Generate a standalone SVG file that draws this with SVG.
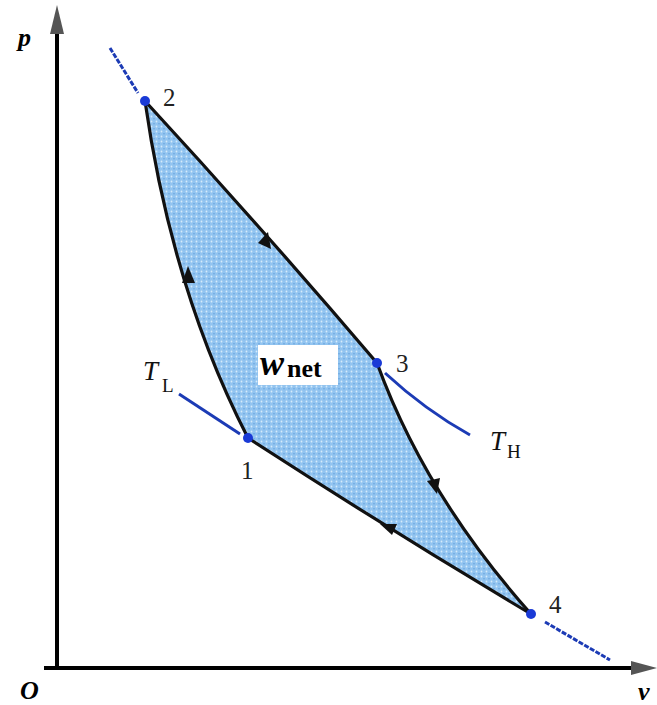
<svg xmlns="http://www.w3.org/2000/svg" width="657" height="705" viewBox="0 0 657 705">
<defs>
<pattern id="dots" width="5" height="5" patternUnits="userSpaceOnUse">
<rect width="5" height="5" fill="#92c4f0"/>
<circle cx="1.5" cy="1.5" r="0.9" fill="#d6ebfb"/>
<circle cx="4" cy="3.8" r="0.7" fill="#5f9fdc"/>
</pattern>
<style>
.axis{stroke:#000;stroke-width:4;fill:none}
.ahead{fill:#555}
.edge{stroke:#111;stroke-width:3.2;fill:none;stroke-linejoin:round}
.iso{stroke:#1c3bb5;stroke-width:3;fill:none}
.dash{stroke-dasharray:5 1.5}
.pt{fill:#1a3ad6}
.num{font-family:"Liberation Serif",serif;font-size:25px;fill:#222}
.ax{font-family:"Liberation Serif",serif;font-size:26px;font-weight:bold;font-style:italic;fill:#000}
.T{font-family:"Liberation Serif",serif;font-size:27px;font-style:italic;fill:#111}
.sub{font-family:"Liberation Serif",serif;font-size:19px;fill:#111}
.arr{fill:#111}
</style>
</defs>
<g id="axes">
<line class="axis" x1="57" y1="670" x2="57" y2="28"/>
<polygon class="ahead" points="57,5 50,34 64,34"/>
<line class="axis" x1="44" y1="668" x2="636" y2="668"/>
<polygon class="ahead" points="657,668 631,661 631,675"/>
<text class="ax" x="18" y="46">p</text>
<text class="ax" x="20" y="699" font-size="27">O</text>
<text class="ax" x="638" y="700">v</text>
</g>
<g id="cycle">
<path d="M145,101 Q262,228 377,363 Q425,495 531,614 Q390,530 248,438 Q172,290 145,101 Z" fill="url(#dots)" stroke="none"/>
</g>
<g id="connectors">
<path id="e23" class="edge" d="M145,101 Q262,228 377,363"/>
<path id="e34" class="edge" d="M377,363 Q425,495 531,614"/>
<path id="e41" class="edge" d="M531,614 Q390,530 248,438"/>
<path id="e12" class="edge" d="M248,438 Q172,290 145,101"/>
<polygon class="arr" points="271,249 258,243 268,232"/>
<polygon class="arr" points="188,266 182,283 195,283"/>
<polygon class="arr" points="437,494 427,481 440,478"/>
<polygon class="arr" points="380,524 397,524 392,535"/>
</g>
<g id="isotherms">
<line class="iso dash" x1="110" y1="48" x2="138" y2="93"/>
<line class="iso" x1="179" y1="394" x2="240" y2="434"/>
<path class="iso" d="M385,373 Q425,410 470,435"/>
<line class="iso dash" x1="545" y1="622" x2="610" y2="660"/>
</g>
<g id="n2"><circle class="pt" cx="145" cy="101" r="5"/><text class="num" x="163" y="106">2</text></g>
<g id="n3"><circle class="pt" cx="377" cy="363" r="5"/><text class="num" x="396" y="372">3</text></g>
<g id="n1"><circle class="pt" cx="248" cy="438" r="5"/><text class="num" x="241" y="479">1</text></g>
<g id="n4"><circle class="pt" cx="531" cy="614" r="5"/><text class="num" x="549" y="613">4</text></g>
<g id="wnet">
<rect x="258" y="345" width="80" height="40" fill="#fff"/>
<text x="260" y="375" font-family="Liberation Serif,serif" font-weight="bold" font-style="italic" font-size="36" fill="#000">w</text>
<text x="287" y="377" font-family="Liberation Serif,serif" font-weight="bold" font-size="26" fill="#000">net</text>
</g>
<g id="TL"><text class="T" x="143" y="380">T</text><text class="sub" x="162" y="392">L</text></g>
<g id="TH"><text class="T" x="490" y="450">T</text><text class="sub" x="507" y="458">H</text></g>
</svg>
